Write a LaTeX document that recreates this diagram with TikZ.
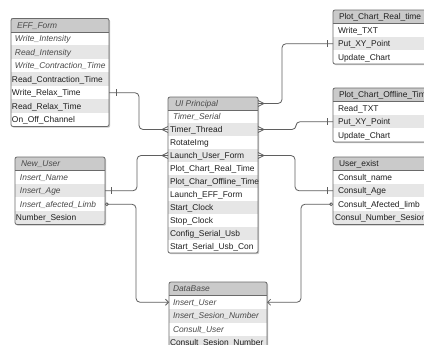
\documentclass[tikz,border=0pt]{standalone}
\usepackage{fontspec}
\setmainfont{Liberation Sans}
\usetikzlibrary{arrows.meta}
\definecolor{hdrfill}{HTML}{CACACA}
\definecolor{rowgray}{HTML}{E6E6E6}
\definecolor{linec}{HTML}{5F5F5F}
\definecolor{boxc}{HTML}{6A6A6A}
\definecolor{txtc}{HTML}{1E1E1E}
\definecolor{itc}{HTML}{4A4A4A}
\newcommand\cellt[3]{\hspace*{#1pt}\makebox[\dimexpr#2pt-#1pt\relax][l]{#3}}
\newcommand\itt[1]{\textcolor{itc}{\itshape #1}}
\newcommand\crowL[1]{\draw[conn] ([xshift=-6pt]#1) -- ([yshift=3pt]#1) ([xshift=-6pt]#1) -- ([yshift=-3pt]#1);}
\newcommand\crowR[1]{\draw[conn] ([xshift=6pt]#1) -- ([yshift=3pt]#1) ([xshift=6pt]#1) -- ([yshift=-3pt]#1);}
\newcommand\tickat[2]{\draw[conn] ([xshift=#2pt,yshift=3.5pt]#1) -- ([xshift=#2pt,yshift=-3.5pt]#1);}
\begin{document}
\begin{tikzpicture}[x=1pt,y=-1pt,
 cell/.style={anchor=north west, inner sep=0pt, outer sep=0pt, minimum height=13.5pt, text height=7.6pt, text depth=1.6pt, font=\fontsize{8.4}{10}\selectfont, text=txtc},
 hdr/.style={cell, fill=hdrfill},
 wr/.style={cell, fill=white},
 gr/.style={cell, fill=rowgray},
 uih/.style={minimum height=13pt},
 boxframe/.style={draw=boxc, line width=0.8pt, rounded corners=2pt},
 hdrline/.style={draw=boxc, line width=0.8pt},
 boxshadow/.style={fill=black!22, rounded corners=2pt},
 conn/.style={draw=linec, line width=0.8pt, rounded corners=4pt},
 zeroarrow/.style={{Circle[open,length=3.6pt,width=3.6pt]}-{Straight Barb[length=3pt,width=6pt]}}
]
\path[use as bounding box] (0,0) rectangle (424,345);
\clip (0,0) rectangle (424,345);
\fill[white] (0,0) rectangle (424,345);

% ---------- EFF_Form ----------
\fill[boxshadow] (12,19.5) rectangle (110.2,127.7);
\node[hdr] (eff) at (11,18.5) {\cellt{6}{98}{\itt{EFF\_Form}}};
\node[wr] (eff1) at (11,32) {\cellt{4}{98}{\itt{Write\_Intensity}}};
\node[gr] (eff2) at (11,45.5) {\cellt{4}{98}{\itt{Read\_Intensity}}};
\node[wr] (eff3) at (11,59) {\cellt{4}{98}{\itt{Write\_Contraction\_Time}}};
\node[gr] (eff4) at (11,72.5) {\cellt{1}{98}{Read\_Contraction\_Time}};
\node[wr] (eff5) at (11,86) {\cellt{1}{98}{Write\_Relax\_Time}};
\node[gr] (eff6) at (11,99.5) {\cellt{1}{98}{Read\_Relax\_Time}};
\node[wr] (eff7) at (11,113) {\cellt{1}{98}{On\_Off\_Channel}};
\draw[boxframe] (eff.north west) rectangle (eff7.south east);
\draw[hdrline] (eff.south west) -- (eff.south east);

% ---------- UI Principal ----------
\fill[boxshadow] (169,98) rectangle (259.2,254.2);
\node[hdr,uih] (ui) at (168,97) {\cellt{7}{90}{\itt{UI Principal}}};
\node[wr,uih] (ui1) at (168,110) {\cellt{5}{90}{\itt{Timer\_Serial}}};
\node[gr,uih] (ui2) at (168,123) {\cellt{2}{90}{Timer\_Thread}};
\node[wr,uih] (ui3) at (168,136) {\cellt{2}{90}{RotateImg}};
\node[gr,uih] (ui4) at (168,149) {\cellt{2}{90}{Launch\_User\_Form}};
\node[wr,uih] (ui5) at (168,162) {\cellt{2}{90}{Plot\_Chart\_Real\_Time}};
\node[gr,uih] (ui6) at (168,175) {\cellt{2}{90}{Plot\_Char\_Offline\_Time}};
\node[wr,uih] (ui7) at (168,188) {\cellt{2}{90}{Launch\_EFF\_Form}};
\node[gr,uih] (ui8) at (168,201) {\cellt{2}{90}{Start\_Clock}};
\node[wr,uih] (ui9) at (168,214) {\cellt{2}{90}{Stop\_Clock}};
\node[gr,uih] (ui10) at (168,227) {\cellt{2}{90}{Config\_Serial\_Usb}};
\node[wr,uih] (ui11) at (168,240) {\cellt{2}{90}{Start\_Serial\_Usb\_Con}};
\draw[boxframe] (ui.north west) rectangle (ui11.south east);
\draw[hdrline] (ui.south west) -- (ui.south east);

% ---------- Plot_Chart_Real_time ----------
\fill[boxshadow] (334,11) rectangle (434,65.2);
\node[hdr] (pcr) at (333,10) {\cellt{6}{100}{Plot\_Chart\_Real\_time}};
\node[wr] (pcr1) at (333,23.5) {\cellt{5}{100}{Write\_TXT}};
\node[gr] (pcr2) at (333,37) {\cellt{5}{100}{Put\_XY\_Point}};
\node[wr] (pcr3) at (333,50.5) {\cellt{5}{100}{Update\_Chart}};
\draw[boxframe] (pcr.north west) rectangle (pcr3.south east);
\draw[hdrline] (pcr.south west) -- (pcr.south east);

% ---------- Plot_Chart_Offline_Time ----------
\fill[boxshadow] (334,89) rectangle (434,143.2);
\node[hdr] (pco) at (333,88) {\cellt{6}{100}{Plot\_Chart\_Offline\_Time}};
\node[wr] (pco1) at (333,101.5) {\cellt{5}{100}{Read\_TXT}};
\node[gr] (pco2) at (333,115) {\cellt{5}{100}{Put\_XY\_Point}};
\node[wr] (pco3) at (333,128.5) {\cellt{5}{100}{Update\_Chart}};
\draw[boxframe] (pco.north west) rectangle (pco3.south east);
\draw[hdrline] (pco.south west) -- (pco.south east);

% ---------- User_exist ----------
\fill[boxshadow] (334,158) rectangle (434,225.7);
\node[hdr] (ue) at (333,157) {\cellt{6}{100}{User\_exist}};
\node[wr] (ue1) at (333,170.5) {\cellt{5}{100}{Consult\_name}};
\node[gr] (ue2) at (333,184) {\cellt{5}{100}{Consult\_Age}};
\node[wr] (ue3) at (333,197.5) {\cellt{5}{100}{Consult\_Afected\_limb}};
\node[gr] (ue4) at (333,211) {\cellt{2}{100}{Consul\_Number\_Sesion}};
\draw[boxframe] (ue.north west) rectangle (ue4.south east);
\draw[hdrline] (ue.south west) -- (ue.south east);

% ---------- New_User ----------
\fill[boxshadow] (16,158) rectangle (106.2,225.7);
\node[hdr] (nu) at (15,157) {\cellt{6}{90}{\itt{New\_User}}};
\node[wr] (nu1) at (15,170.5) {\cellt{5}{90}{\itt{Insert\_Name}}};
\node[gr] (nu2) at (15,184) {\cellt{5}{90}{\itt{Insert\_Age}}};
\node[wr] (nu3) at (15,197.5) {\cellt{5}{90}{\itt{Insert\_afected\_Limb}}};
\node[gr] (nu4) at (15,211) {\cellt{1}{90}{Number\_Sesion}};
\draw[boxframe] (nu.north west) rectangle (nu4.south east);
\draw[hdrline] (nu.south west) -- (nu.south east);

% ---------- DataBase ----------
\fill[boxshadow] (170,283) rectangle (268.2,350.7);
\node[hdr] (db) at (169,282) {\cellt{4}{98}{\itt{DataBase}}};
\node[wr] (db1) at (169,295.5) {\cellt{4}{98}{\itt{Insert\_User}}};
\node[gr] (db2) at (169,309) {\cellt{4}{98}{\itt{Insert\_Sesion\_Number}}};
\node[wr] (db3) at (169,322.5) {\cellt{4}{98}{\itt{Consult\_User}}};
\node[gr] (db4) at (169,336) {\cellt{1}{98}{Consult\_Sesion\_Number}};
\draw[boxframe] (db.north west) rectangle (db4.south east);
\draw[hdrline] (db.south west) -- (db.south east);

% ---------- connectors ----------
\draw[conn] (eff5.east) -- ++(30,0) |- (ui2.west);
\tickat{eff5.east}{7}
\crowL{ui2.west}

\draw[conn] (ui.east) -- ++(24,0) |- (pcr2.west);
\crowR{ui.east}
\tickat{pcr2.west}{-6}

\draw[conn] (ui2.east) -- ++(38,0) |- (pco2.west);
\crowR{ui2.east}
\tickat{pco2.west}{-6}

\draw[conn] (ui4.east) -- ++(37,0) |- (ue2.west);
\crowR{ui4.east}
\tickat{ue2.west}{-6}

\draw[conn] (nu2.east) -- ++(32,0) |- (ui4.west);
\tickat{nu2.east}{6}
\crowL{ui4.west}

\draw[conn, zeroarrow] (nu3.east) -- ++(31,0) |- (db1.west);
\draw[conn, zeroarrow] (ue3.west) -- ++(-32,0) |- (db1.east);
\end{tikzpicture}
\end{document}
